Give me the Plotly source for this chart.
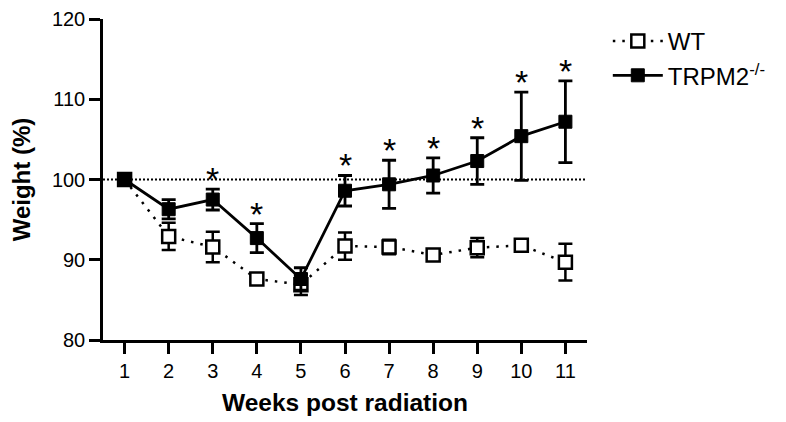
import plotly.graph_objects as go

weeks = [1, 2, 3, 4, 5, 6, 7, 8, 9, 10, 11]
wt_mean = [100, 92.9, 91.6, 87.6, 86.9, 91.7, 91.6, 90.6, 91.5, 91.8, 89.7]
wt_sem = [0, 1.7, 1.9, 0.4, 1.3, 1.7, 0.9, 0.3, 1.2, 0.4, 2.3]
trpm_mean = [100, 96.3, 97.5, 92.7, 87.6, 98.6, 99.4, 100.5, 102.3, 105.4, 107.2]
trpm_sem = [0, 1.2, 1.3, 1.8, 1.4, 1.9, 3.0, 2.2, 2.9, 5.5, 5.1]
sig_weeks = [3, 4, 6, 7, 8, 9, 10, 11]
baseline = 100

FONT = "Liberation Sans, Arial, sans-serif"

fig = go.Figure()

fig.add_shape(type="line", xref="paper", yref="y", x0=0, x1=1, y0=baseline, y1=baseline,
              line=dict(color="black", width=2, dash="2px,2px"), layer="below")

fig.add_trace(go.Scatter(
    x=weeks, y=wt_mean, name="WT", mode="lines+markers",
    line=dict(color="black", width=2.5, dash="2.5px,7px"),
    marker=dict(symbol="square", size=13, color="white", line=dict(color="black", width=2.5)),
    error_y=dict(type="data", array=wt_sem, visible=True, color="black", thickness=2.5, width=7),
))
fig.add_trace(go.Scatter(
    x=weeks, y=trpm_mean, name="TRPM2<sup>-/-</sup>", mode="lines+markers",
    line=dict(color="black", width=2.8),
    marker=dict(symbol="square", size=13, color="black", line=dict(color="black", width=1)),
    error_y=dict(type="data", array=trpm_sem, visible=True, color="black", thickness=2.8, width=7),
))

for w in sig_weeks:
    i = weeks.index(w)
    fig.add_annotation(x=w, y=trpm_mean[i] + trpm_sem[i], text="*", showarrow=False,
                       yanchor="bottom", yshift=-11,
                       font=dict(family=FONT, size=34, color="black"))

fig.update_layout(
    width=786, height=422,
    margin=dict(l=92, r=207, t=11, b=90),
    paper_bgcolor="white", plot_bgcolor="white",
    font=dict(family=FONT, color="black"),
    showlegend=True,
    legend=dict(x=1.043, y=1.0, xanchor="left", yanchor="top",
                font=dict(family=FONT, size=24, color="black"),
                itemwidth=50, bgcolor="rgba(0,0,0,0)"),
)
fig.update_xaxes(
    range=[0.51, 11.49], tickvals=weeks, ticktext=[str(w) for w in weeks],
    showline=True, linecolor="black", linewidth=2.5, ticks="outside", ticklen=11,
    tickwidth=2.5, tickcolor="black", showgrid=False, zeroline=False,
    tickfont=dict(family=FONT, size=20, color="black"),
    automargin="bottom",
    title=dict(text="<b>Weeks post radiation</b>", font=dict(family=FONT, size=24.5, color="black"), standoff=14),
)
fig.update_yaxes(
    range=[80, 120], tickvals=[80, 90, 100, 110, 120],
    showline=True, linecolor="black", linewidth=2.5, ticks="outside", ticklen=11,
    tickwidth=2.5, tickcolor="black", showgrid=False, zeroline=False,
    tickfont=dict(family=FONT, size=20, color="black"),
    automargin="left",
    title=dict(text="<b>Weight (%)</b>", font=dict(family=FONT, size=24, color="black"), standoff=16),
)

fig.write_html("out.html")
